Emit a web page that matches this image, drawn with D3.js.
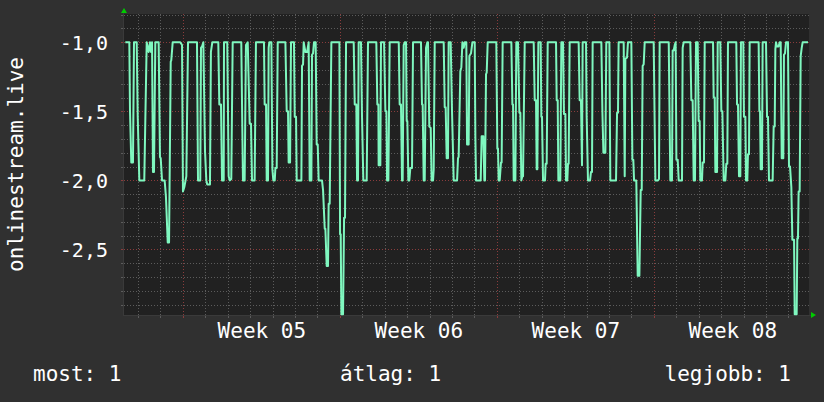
<!DOCTYPE html>
<html>
<head>
<meta charset="utf-8">
<script src="https://cdn.jsdelivr.net/npm/d3@7"></script>
<style>
  html, body { margin: 0; padding: 0; background: #303030; }
  svg { display: block; }
  text { font-family: "DejaVu Sans Mono", monospace; fill: #ffffff; }
</style>
</head>
<body>
<svg id="chart" width="824" height="402"></svg>
<script>
// ---- data ----
const seriesName = "onlinestream.live";
// [hours since 2024-01-26 09:00 UTC, value]
const series = [
[1.4,-1.00],[5.7,-1.00],[6.4,-1.49],[7.8,-1.87],[9.6,-1.87],[10.7,-1.00],[13.6,-1.00],[14.7,-1.54],[16.4,-2.00],[21.7,-2.00],[22.8,-1.57],[24.3,-1.00],[26.4,-1.07],[27.8,-1.00],[28.9,-1.07],[30.0,-1.00],[31.0,-1.94],[32.1,-1.94],[33.5,-1.00],[37.1,-1.00],[38.5,-1.83],[39.3,-1.84],[40.7,-2.00],[43.5,-2.00],[44.9,-2.12],[46.8,-2.45],[48.2,-2.45],[50.0,-1.14],[50.6,-1.13],[52.1,-1.00],[60.2,-1.00],[62.1,-1.02],[63.1,-2.08],[64.5,-2.05],[66.7,-1.97],[68.5,-1.00],[78.1,-1.00],[79.2,-2.00],[81.6,-2.00],[82.4,-1.04],[83.5,-1.03],[84.9,-1.00],[86.7,-1.79],[88.1,-2.00],[89.1,-2.03],[92.0,-2.03],[93.0,-1.07],[94.5,-1.00],[100.9,-1.00],[102.0,-1.45],[103.8,-1.45],[104.9,-2.00],[106.7,-2.00],[107.0,-1.00],[110.5,-1.00],[112.0,-1.97],[113.1,-2.00],[114.8,-1.99],[116.3,-1.00],[125.5,-1.00],[127.3,-2.00],[129.1,-2.00],[130.5,-1.02],[132.4,-1.00],[134.5,-1.59],[135.9,-1.59],[137.0,-2.00],[139.8,-2.00],[141.2,-1.00],[149.8,-1.00],
[150.5,-1.45],[152.0,-1.45],[152.7,-2.00],[154.1,-2.00],[154.8,-1.04],[155.5,-1.00],[157.7,-1.00],[158.8,-1.92],[159.8,-2.00],[161.3,-2.00],[162.0,-1.91],[163.4,-1.91],[164.5,-1.00],[172.7,-1.00],[174.1,-1.50],[175.5,-1.50],[176.2,-1.87],[177.7,-1.87],[178.7,-1.00],[181.9,-1.00],[182.7,-1.54],[184.1,-1.54],[184.8,-2.00],[189.8,-2.00],[190.5,-1.17],[191.6,-1.16],[192.3,-1.00],[194.1,-1.07],[195.9,-1.07],[197.6,-1.00],[198.7,-2.00],[200.5,-2.00],[201.2,-1.09],[202.3,-1.08],[203.3,-1.00],[205.1,-1.00],[206.2,-1.74],[207.3,-1.74],[208.3,-2.00],[211.9,-2.00],[213.0,-2.07],[214.8,-2.35],[215.5,-2.35],[216.9,-2.62],[218.3,-2.62],[219.0,-2.17],[220.1,-2.17],[221.9,-1.00],[230.5,-1.00],[231.2,-2.39],[231.9,-2.39],[232.6,-2.97],[234.4,-2.97],[235.5,-2.27],[236.5,-2.27],[237.6,-1.00],[245.8,-1.00],[246.9,-1.45],[248.6,-1.45],[249.4,-2.00],[250.4,-2.00],[251.1,-1.00],[253.6,-1.00],[254.7,-1.54],[256.1,-2.00],[259.7,-2.00],[261.1,-1.00],[270.0,-1.00],[271.1,-1.45],[272.2,-1.45],[272.5,-1.89],[274.3,-1.89],[275.0,-1.00],[278.3,-1.00],[279.7,-1.50],[280.8,-1.50],[281.5,-2.00],[282.9,-2.00],[284.3,-1.00],[294.0,-1.00],[295.0,-1.45],[296.4,-1.45],[297.5,-2.00],
[298.2,-2.00],[299.3,-1.02],[300.4,-1.00],[301.8,-1.00],[302.5,-1.57],[303.2,-1.57],[304.3,-2.00],[305.3,-2.00],[306.4,-1.91],[308.2,-1.91],[309.3,-1.00],[317.8,-1.00],[318.9,-1.45],[319.6,-1.45],[320.7,-2.00],[321.8,-2.00],[323.2,-1.04],[324.6,-1.00],[325.3,-1.00],[326.7,-1.61],[328.2,-1.62],[329.2,-2.00],[330.7,-2.00],[331.4,-1.92],[332.5,-1.00],[342.1,-1.00],[343.2,-1.47],[344.2,-1.47],[345.3,-1.84],[346.7,-1.84],[347.4,-1.00],[349.6,-1.00],[351.0,-1.50],[352.8,-2.00],[356.4,-2.00],[357.4,-1.84],[358.1,-1.83],[359.9,-1.21],[361.0,-1.18],[362.1,-1.00],[363.5,-1.04],[364.6,-1.00],[366.3,-1.00],[367.1,-1.74],[368.8,-1.74],[369.6,-1.10],[371.3,-1.08],[372.8,-1.00],[375.3,-1.00],[376.0,-1.69],[376.7,-2.00],[381.7,-2.00],[382.7,-1.68],[384.5,-1.68],[385.6,-2.00],[386.3,-2.00],[387.4,-1.23],[388.1,-1.22],[389.2,-1.00],[398.4,-1.00],[399.5,-1.77],[400.2,-1.77],[400.9,-2.00],[402.0,-2.00],[403.4,-1.87],[404.1,-1.87],[405.2,-1.00],[414.5,-1.00],[415.6,-1.45],[416.3,-1.45],[417.0,-2.00],[418.8,-2.00],[419.8,-1.00],[421.6,-1.00],[423.1,-1.51],[424.1,-1.51],[425.2,-2.00],[426.3,-1.97],[427.0,-1.97],[428.8,-1.00],[438.4,-1.00],[439.5,-1.42],[440.9,-1.42],[441.6,-1.92],[442.3,-1.92],[443.4,-1.00],[445.9,-1.00],[446.6,-1.54],[447.3,-1.54],[448.4,-2.00],
[450.5,-2.00],[451.2,-1.88],[452.3,-1.88],[453.4,-1.00],[462.3,-1.00],[463.0,-1.42],[464.1,-1.42],[464.8,-2.00],[466.9,-2.00],[468.0,-1.00],[469.8,-1.00],[470.8,-1.52],[472.3,-1.52],[473.0,-2.00],[474.4,-2.00],[475.1,-1.88],[475.8,-1.88],[476.9,-1.00],[486.5,-1.00],[487.6,-1.42],[489.0,-1.42],[490.1,-1.89],[490.8,-1.00],[494.4,-1.00],[495.1,-1.54],[496.5,-2.00],[498.7,-2.00],[499.7,-1.94],[500.8,-1.94],[501.5,-1.00],[510.8,-1.00],[511.9,-1.50],[513.0,-1.80],[515.1,-1.80],[516.1,-1.00],[519.4,-1.00],[520.4,-2.00],[526.5,-2.00],[527.6,-1.51],[528.6,-1.51],[529.3,-1.00],[534.7,-1.00],[535.8,-1.97],[536.5,-1.12],[538.3,-1.11],[539.3,-1.00],[542.9,-1.00],[544.0,-1.85],[545.0,-1.85],[545.8,-2.00],[548.2,-2.00],[549.7,-2.69],[551.5,-2.69],[552.9,-2.07],[554.0,-2.07],[555.0,-1.17],[556.1,-1.16],[557.2,-1.00],[566.8,-1.00],[568.6,-2.00],[571.4,-2.00],[572.5,-1.99],[573.2,-1.00],[582.9,-1.00],[584.6,-2.00],[586.4,-2.00],[587.1,-1.06],[588.2,-1.06],[589.3,-1.02],[590.3,-1.00],[591.1,-1.85],[592.5,-1.85],[593.6,-2.00],[597.1,-2.00],
[597.8,-1.04],[598.9,-1.00],[606.0,-1.00],[607.1,-1.42],[608.5,-1.42],[609.6,-2.00],[611.0,-2.00],[612.1,-1.00],[613.9,-1.00],[614.9,-1.57],[616.0,-1.57],[616.7,-2.00],[618.5,-2.00],[619.2,-1.87],[620.6,-1.87],[621.4,-1.00],[630.3,-1.00],[631.0,-1.40],[632.1,-1.40],[632.8,-1.94],[634.6,-1.94],[635.3,-1.00],[638.1,-1.00],[639.2,-1.50],[640.3,-1.50],[641.7,-2.00],[643.5,-2.00],[644.5,-1.88],[645.6,-1.88],[646.3,-1.00],[655.2,-1.00],[656.0,-1.45],[657.0,-1.45],[658.1,-1.97],[659.5,-1.97],[660.2,-1.00],[662.7,-1.00],[663.4,-1.54],[664.9,-1.54],[665.6,-2.00],[667.0,-2.00],[667.7,-1.81],[668.8,-1.81],[669.5,-1.00],[679.1,-1.00],[679.9,-1.50],[680.6,-1.50],[681.3,-1.92],[682.7,-1.92],[683.4,-1.00],[687.0,-1.00],[688.1,-1.54],[689.1,-1.54],[690.2,-2.00],[694.1,-2.00],[695.2,-1.61],[696.3,-1.61],[697.0,-1.05],[697.7,-1.00],[698.8,-1.03],[700.5,-1.03],[701.6,-1.00],[702.7,-1.00],[703.8,-1.84],[705.5,-1.84],[706.2,-1.09],[707.3,-1.08],[708.4,-1.00],[710.5,-1.00],[711.6,-1.90],[712.7,-1.90],[714.1,-2.05],[715.2,-2.43],[717.0,-2.43],[717.7,-2.97],[719.8,-2.97],[720.5,-2.42],[721.2,-2.42],[721.9,-2.08],[723.0,-2.08],[724.1,-1.10],[725.2,-1.04],[726.2,-1.00],[731.9,-1.00]
];
const startTime = Date.UTC(2024, 0, 26, 9, 0);
const endHours = 733;
const yDomain = [-2.975, -0.795];
const yTickValues = [-1.0, -1.5, -2.0, -2.5];
const yTickLabels = ["-1,0", "-1,5", "-2,0", "-2,5"];
const weekStarts = [Date.UTC(2024,0,29), Date.UTC(2024,1,5), Date.UTC(2024,1,12), Date.UTC(2024,1,19)];
const weekLabels = ["Week 05", "Week 06", "Week 07", "Week 08"];
const legendLabels = ["most: 1", "átlag: 1", "legjobb: 1"];

// ---- layout ----
const L = 124, R = 809, T = 14, B = 315;
const svg = d3.select("#chart");
const x = d3.scaleTime().domain([new Date(startTime), new Date(startTime + endHours*3600e3)]).range([L, R]);
const y = d3.scaleLinear().domain(yDomain).range([B, T]);
const toDate = h => new Date(startTime + h*3600e3);

svg.append("rect").attr("x", 0).attr("y", 0).attr("width", 824).attr("height", 402).attr("fill", "#303030");
svg.append("rect").attr("x", L).attr("y", T).attr("width", R - L).attr("height", B - T).attr("fill", "#212121");

// minor horizontal grid (every 0.1)
const minorY = d3.range(-29, -7).map(i => i / 10).filter(v => v >= yDomain[0] && v <= yDomain[1]);
const gGrid = svg.append("g");
gGrid.selectAll("line.hmin").data(minorY.filter(v => !yTickValues.some(t => Math.abs(t - v) < 1e-6)))
  .join("line").attr("x1", L).attr("x2", R).attr("y1", d => Math.round(y(d)) + 0.5).attr("y2", d => Math.round(y(d)) + 0.5)
  .attr("stroke", "#5c5c5c").attr("stroke-dasharray", "1,2");
// minor vertical grid (daily)
const days = d3.utcDay.range(x.domain()[0], x.domain()[1]);
const weekSet = new Set(weekStarts.concat([Date.UTC(2024,1,26)]));
gGrid.selectAll("line.vmin").data(days.filter(d => !weekSet.has(+d)))
  .join("line").attr("y1", T).attr("y2", B).attr("x1", d => Math.round(x(d)) + 0.5).attr("x2", d => Math.round(x(d)) + 0.5)
  .attr("stroke", "#5c5c5c").attr("stroke-dasharray", "1,2");
// major grid
gGrid.selectAll("line.hmaj").data(yTickValues)
  .join("line").attr("x1", L).attr("x2", R).attr("y1", d => Math.round(y(d)) + 0.5).attr("y2", d => Math.round(y(d)) + 0.5)
  .attr("stroke", "#8a3c3c").attr("stroke-dasharray", "1,2");
gGrid.selectAll("line.vmaj").data(weekStarts.filter(d => x(new Date(d)) < R))
  .join("line").attr("y1", T).attr("y2", B).attr("x1", d => Math.round(x(new Date(d))) + 0.5).attr("x2", d => Math.round(x(new Date(d))) + 0.5)
  .attr("stroke", "#8a3c3c").attr("stroke-dasharray", "1,2");

// tick marks on axes
gGrid.selectAll("line.xt").data(days)
  .join("line").attr("y1", B).attr("y2", B + 3).attr("x1", d => Math.round(x(d)) + 0.5).attr("x2", d => Math.round(x(d)) + 0.5)
  .attr("stroke", d => weekSet.has(+d) ? "#8a3c3c" : "#5c5c5c");
gGrid.selectAll("line.yt").data(minorY)
  .join("line").attr("x1", L - 3).attr("x2", L).attr("y1", d => Math.round(y(d)) + 0.5).attr("y2", d => Math.round(y(d)) + 0.5)
  .attr("stroke", d => yTickValues.some(t => Math.abs(t - d) < 1e-6) ? "#8a3c3c" : "#5c5c5c");

// axis lines
svg.append("line").attr("x1", L - 0.5).attr("x2", L - 0.5).attr("y1", T - 2).attr("y2", B + 1).attr("stroke", "#3a3a3a");
svg.append("line").attr("x1", L - 1).attr("x2", R + 2).attr("y1", B + 0.5).attr("y2", B + 0.5).attr("stroke", "#3a3a3a");
// arrows
svg.append("path").attr("d", d3.line()([[L - 3, T - 1], [L + 3, T - 1], [L, T - 6]]) + "Z").attr("fill", "#00cc00");
svg.append("path").attr("d", d3.line()([[R + 2, B - 3], [R + 2, B + 3], [R + 7, B]]) + "Z").attr("fill", "#00cc00");

// series line
svg.append("path").datum(series)
  .attr("d", d3.line().x(d => x(toDate(d[0]))).y(d => y(d[1])))
  .attr("fill", "none").attr("stroke", "#7ff7bf").attr("stroke-width", 2).attr("stroke-linejoin", "round");

// y axis labels
const yAxis = d3.axisLeft(y).tickValues(yTickValues).tickSize(0).tickPadding(16)
  .tickFormat((d, i) => yTickLabels[i]);
const gy = svg.append("g").attr("transform", `translate(${L},0)`).call(yAxis);
gy.select(".domain").remove();
gy.selectAll("text").attr("font-family", "DejaVu Sans Mono").attr("font-size", 20).attr("fill", "#fff").attr("dy", "0.36em");

// x axis labels (centred in each week)
const weekMid = weekStarts.map(d => new Date(d + 3.5 * 864e5));
const xAxis = d3.axisBottom(x).tickValues(weekMid).tickSize(0).tickPadding(8)
  .tickFormat((d, i) => weekLabels[i]);
const gx = svg.append("g").attr("transform", `translate(0,${B})`).call(xAxis);
gx.select(".domain").remove();
gx.selectAll("text").attr("font-family", "DejaVu Sans Mono").attr("font-size", 21).attr("fill", "#fff");

// vertical series label
svg.append("text").attr("transform", `translate(23,${(T + B) / 2}) rotate(-90)`)
  .attr("text-anchor", "middle").attr("font-size", 21).text(seriesName);

// legend
const legendX = [33, 340, 791];
const legendAnchor = ["start", "start", "end"];
svg.selectAll("text.legend").data(legendLabels).join("text")
  .attr("class", "legend").attr("x", (d, i) => legendX[i]).attr("y", 381)
  .attr("text-anchor", (d, i) => legendAnchor[i]).attr("font-size", 21).text(d => d);
</script>
</body>
</html>
